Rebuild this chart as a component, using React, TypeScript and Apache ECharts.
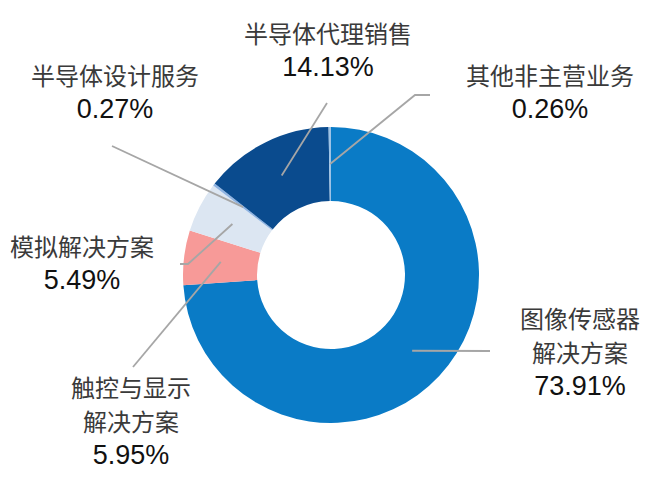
import React, { useEffect, useRef } from "react";
import * as echarts from "echarts";

const categories = [
  "图像传感器\n解决方案",
  "触控与显示\n解决方案",
  "模拟解决方案",
  "半导体设计服务",
  "半导体代理销售",
  "其他非主营业务",
];
const shares = [73.91, 5.95, 5.49, 0.27, 14.13, 0.26];
const colors = ["#0a7bc6", "#f79a98", "#dce6f2", "#8fb4e3", "#0a4b8e", "#9dc3e6"];

const CX = 331;
const CY = 275;
const LINE_R = 111;

// label block centers and guide-line elbow/end points (layout only)
const labelPos = [
  { x: 580, y: 352, line: [[490, 351]] },
  { x: 131, y: 421, line: [[133, 367]] },
  { x: 82, y: 263, line: [[188, 264], [180, 264]] },
  { x: 115, y: 92, line: [[112, 146]] },
  { x: 328, y: 50, line: [[327, 103]] },
  { x: 550, y: 92, line: [[415, 95], [430, 95]] },
];

export default function App() {
  const ref = useRef<HTMLDivElement>(null);
  useEffect(() => {
    document.body.style.margin = "0";
    const chart = echarts.init(ref.current!, null, { renderer: "svg" });
    const base = {
      type: "pie",
      center: [CX, CY],
      radius: [74, 148],
      startAngle: 90,
      clockwise: true,
      avoidLabelOverlap: false,
    };
    chart.setOption({
      animation: false,
      backgroundColor: "#ffffff",
      series: [
        {
          ...base,
          z: 2,
          data: categories.map((n, i) => ({
            name: n,
            value: shares[i],
            itemStyle: { color: colors[i] },
          })),
          itemStyle: { borderWidth: 0 },
          label: { show: false },
          labelLine: { show: false },
          silent: true,
        },
        {
          ...base,
          z: 6,
          silent: true,
          data: categories.map((n, i) => ({
            name: n,
            value: shares[i],
            itemStyle: { color: "rgba(0,0,0,0)" },
          })),
          itemStyle: { borderWidth: 0 },
          label: {
            show: true,
            position: "outside",
            formatter: (p: any) => `{n|${p.name}}\n{v|${p.value.toFixed(2)}%}`,
            rich: {
              n: {
                fontFamily: "'Noto Sans CJK SC', sans-serif",
                fontSize: 24,
                lineHeight: 34,
                color: "#3a3a3a",
                align: "center",
              },
              v: {
                fontFamily: "'Liberation Sans', Arial, sans-serif",
                fontSize: 27,
                lineHeight: 36,
                color: "#111111",
                align: "center",
              },
            },
          },
          labelLine: {
            show: true,
            length: 10,
            length2: 10,
            lineStyle: { color: "#a6a6a6", width: 1.8 },
          },
          labelLayout: (params: any) => {
            const i = params.dataIndex;
            const L = labelPos[i];
            const pts = params.labelLinePoints;
            let start: number[] = [CX, CY];
            if (pts && pts[0]) {
              const dx = pts[0][0] - CX;
              const dy = pts[0][1] - CY;
              const d = Math.sqrt(dx * dx + dy * dy) || 1;
              start = [CX + (dx / d) * LINE_R, CY + (dy / d) * LINE_R];
            }
            const rest = L.line.length === 1 ? [L.line[0], L.line[0]] : L.line;
            return {
              x: L.x,
              y: L.y,
              align: "center",
              verticalAlign: "middle",
              labelLinePoints: [start, ...rest],
            };
          },
        },
      ],
    });
    return () => chart.dispose();
  }, []);
  return <div ref={ref} style={{ width: 660, height: 495 }} />;
}
